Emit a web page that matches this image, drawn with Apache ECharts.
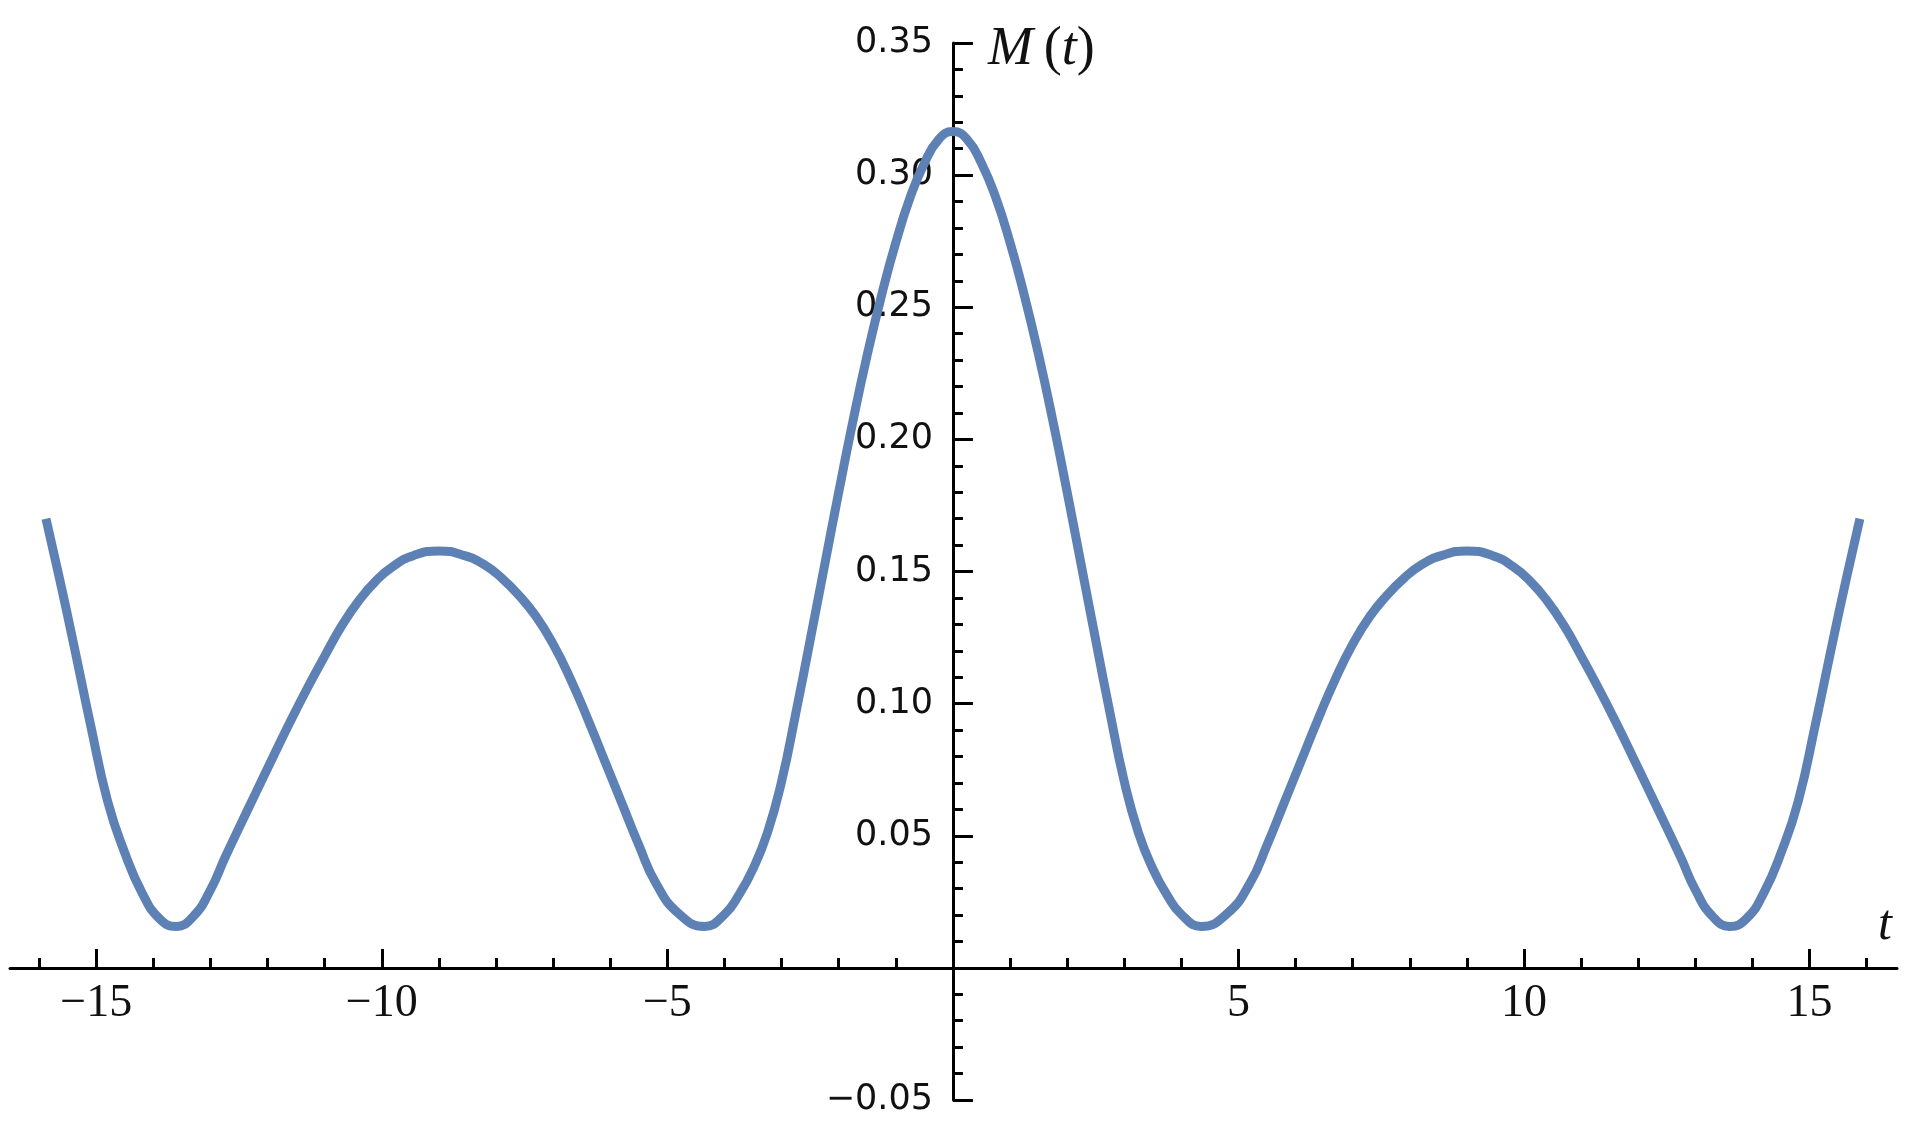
<!DOCTYPE html>
<html>
<head>
<meta charset="utf-8">
<script src="https://cdn.jsdelivr.net/npm/echarts@6/dist/echarts.min.js"></script>
<style>
  html, body { margin: 0; padding: 0; background: #fff; }
  #chart { width: 1918px; height: 1146px; }
</style>
</head>
<body>
<div id="chart"></div>
<script>
// t values
const tValues = [
  -15.88, -15.65, -15.4, -15.1, -14.8, -14.5, -14.2, -13.9, -13.6, -13.3,
  -13.0, -12.75, -12.5, -12.2, -11.9, -11.6, -11.3, -11.0, -10.7, -10.4,
  -10.1, -9.8, -9.45, -9.0, -8.55, -8.2, -7.9, -7.6, -7.3, -7.0,
  -6.7, -6.4, -6.1, -5.8, -5.5, -5.2, -4.8, -4.35, -4.0, -3.75,
  -3.5, -3.25, -3.0, -2.75, -2.5, -2.25, -2.0, -1.75, -1.5, -1.25,
  -1.0, -0.75, -0.5, -0.25, 0,
  0.25, 0.5, 0.75, 1.0, 1.25, 1.5, 1.75, 2.0, 2.25, 2.5,
  2.75, 3.0, 3.25, 3.5, 3.75, 4.0, 4.35, 4.8, 5.2, 5.5,
  5.8, 6.1, 6.4, 6.7, 7.0, 7.3, 7.6, 7.9, 8.2, 8.55,
  9.0, 9.45, 9.8, 10.1, 10.4, 10.7, 11.0, 11.3, 11.6, 11.9,
  12.2, 12.5, 12.75, 13.0, 13.3, 13.6, 13.9, 14.2, 14.5, 14.8,
  15.1, 15.4, 15.65, 15.88
];
// M(t) values
const mValues = [
  0.170, 0.148, 0.123, 0.092, 0.063, 0.0435, 0.0285, 0.0188, 0.0157, 0.0195,
  0.0295, 0.0415, 0.053, 0.0665, 0.080, 0.0933, 0.106, 0.118, 0.1295, 0.139,
  0.1465, 0.152, 0.156, 0.1578, 0.156, 0.1525, 0.1475, 0.141, 0.133, 0.1225,
  0.1095, 0.0945, 0.0785, 0.0625, 0.0465, 0.032, 0.0205, 0.0157, 0.0202, 0.0275,
  0.0375, 0.051, 0.0705, 0.0965, 0.124, 0.152, 0.180, 0.207, 0.232, 0.2545,
  0.2745, 0.2915, 0.3045, 0.3135, 0.3165,
  0.3135, 0.3045, 0.2915, 0.2745, 0.2545, 0.232, 0.207, 0.180, 0.152, 0.124,
  0.0965, 0.0705, 0.051, 0.0375, 0.0275, 0.0202, 0.0157, 0.0205, 0.032, 0.0465,
  0.0625, 0.0785, 0.0945, 0.1095, 0.1225, 0.133, 0.141, 0.1475, 0.1525, 0.156,
  0.1578, 0.156, 0.152, 0.1465, 0.139, 0.1295, 0.118, 0.106, 0.0933, 0.080,
  0.0665, 0.053, 0.0415, 0.0295, 0.0195, 0.0157, 0.0188, 0.0285, 0.0435, 0.063,
  0.092, 0.123, 0.148, 0.170
];
// tick positions
const xMajorTicks = [-15, -10, -5, 5, 10, 15];
const xMinorTicks = [-16, -15, -14, -13, -12, -11, -10, -9, -8, -7, -6, -5, -4, -3, -2, -1,
                     1, 2, 3, 4, 5, 6, 7, 8, 9, 10, 11, 12, 13, 14, 15, 16];
const xMin = -16.51, xMax = 16.53;
const yMin = -0.05, yMax = 0.35, yInterval = 0.05;

const chart = echarts.init(document.getElementById('chart'), null, { renderer: 'canvas' });
const axisColor = '#000';
const serif = '"Liberation Serif", "DejaVu Serif", serif';
const sans = '"DejaVu Sans", "Liberation Sans", sans-serif';

function minus(v, digits) {
  const s = digits != null ? Math.abs(v).toFixed(digits) : String(Math.abs(v));
  return (v < 0 ? '\u2212' : '') + s;
}

chart.setOption({
  animation: false,
  backgroundColor: '#fff',
  grid: { left: 10, right: 21, top: 43, bottom: 46, containLabel: false, outerBoundsMode: 'none' },
  xAxis: [
    {
      type: 'value',
      min: xMin, max: xMax,
      position: 'bottom',
      axisLine: { show: true, onZero: false, lineStyle: { color: axisColor, width: 3 } },
      axisTick: { show: true, inside: true, length: 19, customValues: xMajorTicks, lineStyle: { color: axisColor, width: 3 } },
      axisLabel: {
        show: true, customValues: xMajorTicks, margin: 13,
        fontFamily: serif, fontSize: 46, color: '#111',
        formatter: v => minus(v)
      },
      splitLine: { show: false },
      name: 't',
      nameLocation: 'end',
      nameGap: -5,
      nameTextStyle: {
        fontFamily: serif, fontStyle: 'italic', fontSize: 50, color: '#111',
        align: 'right', verticalAlign: 'bottom', padding: [0, 0, 17, 0]
      }
    },
    {
      type: 'value',
      min: xMin, max: xMax,
      position: 'bottom',
      axisLine: { show: false, onZero: false },
      axisTick: { show: true, inside: true, length: 10, customValues: xMinorTicks, lineStyle: { color: axisColor, width: 3 } },
      axisLabel: { show: false },
      splitLine: { show: false }
    }
  ],
  yAxis: {
    type: 'value',
    min: yMin, max: yMax, interval: yInterval,
    position: 'left',
    axisLine: { show: true, onZero: false, lineStyle: { color: axisColor, width: 3 } },
    axisTick: { show: true, inside: true, length: 20, lineStyle: { color: axisColor, width: 3 } },
    minorTick: { show: true, splitNumber: 5, length: 10, lineStyle: { color: axisColor, width: 3 } },
    axisLabel: {
      margin: 20, fontFamily: sans, fontSize: 35, color: '#111',
      formatter: v => (Math.abs(v) < 1e-9 ? '' : minus(v, 2))
    },
    splitLine: { show: false },
    minorSplitLine: { show: false },
    name: '{i|M}\u2009({i|t})',
    nameLocation: 'end',
    nameGap: -7,
    nameTextStyle: {
      fontFamily: serif, fontSize: 54, color: '#111',
      align: 'left', verticalAlign: 'middle', padding: [0, 0, 0, 35],
      rich: { i: { fontFamily: serif, fontStyle: 'italic', fontSize: 54, color: '#111' } }
    }
  },
  series: [{
    type: 'line',
    xAxisIndex: 0,
    yAxisIndex: 0,
    data: tValues.map((t, i) => [t, mValues[i]]),
    showSymbol: false,
    smooth: 0.5,
    lineStyle: { color: '#5e81b5', width: 9, cap: 'butt', join: 'round' },
    itemStyle: { color: '#5e81b5' }
  }]
});

// Move the axes so they cross at the origin, using the library's own scales.
const xZeroPx = chart.convertToPixel({ xAxisIndex: 0 }, 0);
const xLeftPx = chart.convertToPixel({ xAxisIndex: 0 }, xMin);
const yZeroPx = chart.convertToPixel({ yAxisIndex: 0 }, 0);
const yBottomPx = chart.convertToPixel({ yAxisIndex: 0 }, yMin);
chart.setOption({
  xAxis: [{ offset: -(yBottomPx - yZeroPx) }, { offset: -(yBottomPx - yZeroPx) }],
  yAxis: { offset: -(xZeroPx - xLeftPx) }
});
</script>
</body>
</html>
